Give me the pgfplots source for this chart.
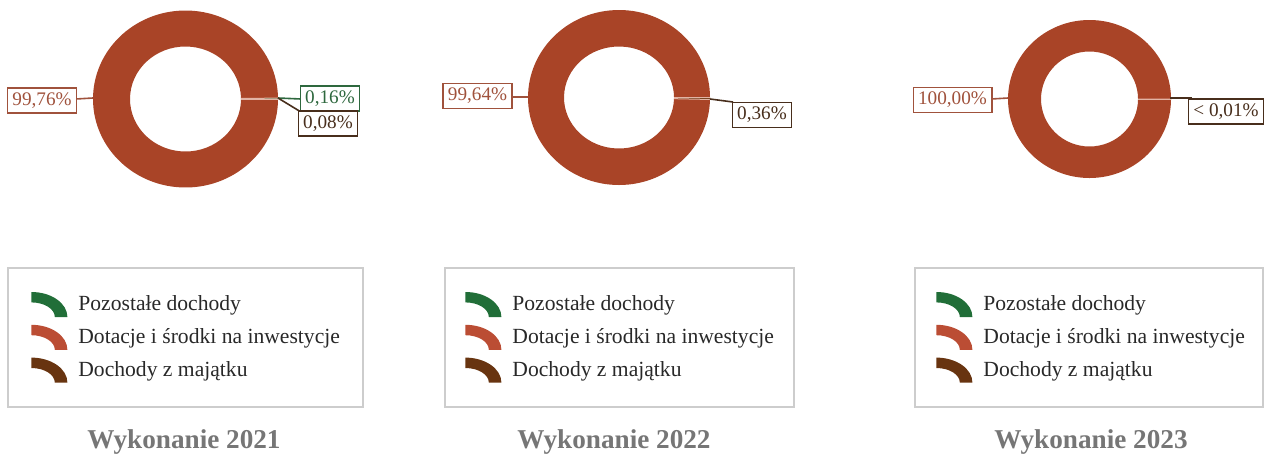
\documentclass[border=0pt]{standalone}
\usepackage{fontspec}
\setmainfont{Liberation Serif}
\usepackage{pgfplots}
\pgfplotsset{compat=1.18}

\definecolor{dotacje}{RGB}{169,68,39}
\definecolor{dotacjeL}{RGB}{187,77,52}
\definecolor{pozostale}{RGB}{33,110,56}
\definecolor{majatek}{RGB}{104,52,16}
\definecolor{sepline}{RGB}{226,180,165}
\definecolor{lblred}{RGB}{160,82,60}
\definecolor{lblgreen}{RGB}{46,104,62}
\definecolor{lblbrown}{RGB}{72,46,28}
\definecolor{boxframe}{RGB}{205,205,205}
\definecolor{ttl}{RGB}{118,118,118}
\definecolor{legtext}{RGB}{40,40,40}

% ring sectors; geometry in px of the reference (1px = 0.5pt)
% #1 cx, #2 cy, #3 outer rx, #4 outer ry, #5 inner rx, #6 inner ry, #7 list value/colour
\newcommand{\donut}[7]{%
  \pgfmathsetmacro\Ro{#3*0.5}\pgfmathsetmacro\RO{#4*0.5}%
  \pgfmathsetmacro\Ri{#5*0.5}\pgfmathsetmacro\RI{#6*0.5}%
  \gdef\cum{0}%
  \foreach \p/\c in {#7}{%
    \pgfmathsetmacro\aA{\cum*3.6}%
    \pgfmathsetmacro\aB{(\cum+\p)*3.6}%
    \edef\tmp{\noexpand\fill[\c] (axis cs:#1,#2) ++(\aA:\Ro pt and \RO pt)
      arc[start angle=\aA,end angle=\aB,x radius=\Ro pt,y radius=\RO pt]
      -- ([shift={(\aB:\Ri pt and \RI pt)}]axis cs:#1,#2)
      arc[start angle=\aB,end angle=\aA,x radius=\Ri pt,y radius=\RI pt] -- cycle;}%
    \tmp
    \pgfmathsetmacro\newcum{\cum+\p}\xdef\cum{\newcum}%
  }%
  \gdef\cum{0}%
  \foreach \p/\c in {#7}{%
    \pgfmathsetmacro\aA{\cum*3.6}%
    \edef\tmp{\noexpand\draw[sepline,line width=0.5pt]
      ([shift={(\aA:\Ri pt and \RI pt)}]axis cs:#1,#2) --
      ([shift={(\aA:\Ro pt and \RO pt)}]axis cs:#1,#2);}%
    \tmp
    \pgfmathsetmacro\newcum{\cum+\p}\xdef\cum{\newcum}%
  }%
}

% legend icon: quarter of an elliptic ring
\newcommand{\arcicon}[1]{%
  \fill[#1, draw=none, overlay] (0pt,-6.3pt) ++(90:18pt and 12.5pt)
    arc[start angle=90,end angle=0,x radius=18pt,y radius=12.5pt]
    -- ++(-6.3pt,0pt) arc[start angle=0,end angle=90,x radius=11.7pt,y radius=7.3pt] -- cycle;
  \path[draw=none, fill=none] (0pt,0pt) rectangle (21.5pt,0.1pt);}

\pgfplotsset{panel/.style={
    width=633pt, height=228pt, scale only axis,
    xmin=0, xmax=1266, ymin=0, ymax=456, y dir=reverse,
    hide axis, clip=false,
    legend cell align=left,
    legend style={draw=none, fill=none, anchor=north west, text=legtext,
      font=\fontsize{10.8}{12.8}\selectfont, row sep=3.4pt},
  }}
\tikzset{
  lbl/.style={draw=#1, text=#1, fill=white, line width=0.8pt,
    inner xsep=2.4pt, inner ysep=0pt, minimum height=12.5pt,
    font=\fontsize{9.6}{11}\selectfont},
  ttlstyle/.style={font=\bfseries\fontsize{13.6}{16}\selectfont, text=ttl},
}

\begin{document}
\begin{tikzpicture}
% ---------- 2021 ----------
\begin{axis}[panel, name=ax1, legend style={at={(axis cs:25,287)}}]
\addlegendimage{legend image code/.code={\arcicon{pozostale}}}
\addlegendentry{Pozostałe dochody}
\addlegendimage{legend image code/.code={\arcicon{dotacjeL}}}
\addlegendentry{Dotacje i środki na inwestycje}
\addlegendimage{legend image code/.code={\arcicon{majatek}}}
\addlegendentry{Dochody z majątku}
\donut{185.5}{99}{92.5}{88.5}{55.5}{52.5}{0.16/pozostale,99.76/dotacje,0.08/majatek}
\draw[lblred, line width=0.8pt] (axis cs:76,99) -- (axis cs:93,98);
\draw[lblgreen, line width=0.8pt] (axis cs:278,98) -- (axis cs:301,99);
\draw[lblbrown, line width=0.8pt] (axis cs:278,98) -- (axis cs:301,112);
\node[lbl=lblred] at (axis cs:42,100.5) {99,76\%};
\node[lbl=lblgreen] at (axis cs:330,98.5) {0,16\%};
\node[lbl=lblbrown] at (axis cs:328,123.5) {0,08\%};
\draw[boxframe, line width=0.9pt] (axis cs:8,268) rectangle (axis cs:363,407);
\node[ttlstyle] at (axis cs:184,442) {Wykonanie 2021};
\end{axis}
% ---------- 2022 ----------
\begin{axis}[panel, legend style={at={(axis cs:459,287)}}]
\addlegendimage{legend image code/.code={\arcicon{pozostale}}}
\addlegendentry{Pozostałe dochody}
\addlegendimage{legend image code/.code={\arcicon{dotacjeL}}}
\addlegendentry{Dotacje i środki na inwestycje}
\addlegendimage{legend image code/.code={\arcicon{majatek}}}
\addlegendentry{Dochody z majątku}
\donut{619}{97.5}{91}{87.5}{55}{51}{99.64/dotacje,0.36/majatek}
\draw[lblred, line width=0.8pt] (axis cs:512,97) -- (axis cs:528,97);
\draw[lblbrown, line width=0.8pt] (axis cs:710,99) -- (axis cs:733,102);
\node[lbl=lblred] at (axis cs:477.5,96) {99,64\%};
\node[lbl=lblbrown] at (axis cs:762,115) {0,36\%};
\draw[boxframe, line width=0.9pt] (axis cs:445,268) rectangle (axis cs:794,407);
\node[ttlstyle] at (axis cs:614,442) {Wykonanie 2022};
\end{axis}
% ---------- 2023 ----------
\begin{axis}[panel, legend style={at={(axis cs:930,287)}}]
\addlegendimage{legend image code/.code={\arcicon{pozostale}}}
\addlegendentry{Pozostałe dochody}
\addlegendimage{legend image code/.code={\arcicon{dotacjeL}}}
\addlegendentry{Dotacje i środki na inwestycje}
\addlegendimage{legend image code/.code={\arcicon{majatek}}}
\addlegendentry{Dochody z majątku}
\donut{1089.5}{99}{81.5}{79}{48.5}{47.5}{99.996/dotacje,0.004/majatek}
\draw[lblred, line width=0.8pt] (axis cs:991,99) -- (axis cs:1008,98);
\draw[lblbrown, line width=0.8pt] (axis cs:1170,98) -- (axis cs:1192,98);
\node[lbl=lblred] at (axis cs:952.5,100) {100,00\%};
\node[lbl=lblbrown] at (axis cs:1226,111.5) {< 0,01\%};
\draw[boxframe, line width=0.9pt] (axis cs:915,268) rectangle (axis cs:1263,407);
\node[ttlstyle] at (axis cs:1091,442) {Wykonanie 2023};
\end{axis}
\pgfresetboundingbox
\path (ax1.south west) rectangle (ax1.north east);
\end{tikzpicture}
\end{document}
